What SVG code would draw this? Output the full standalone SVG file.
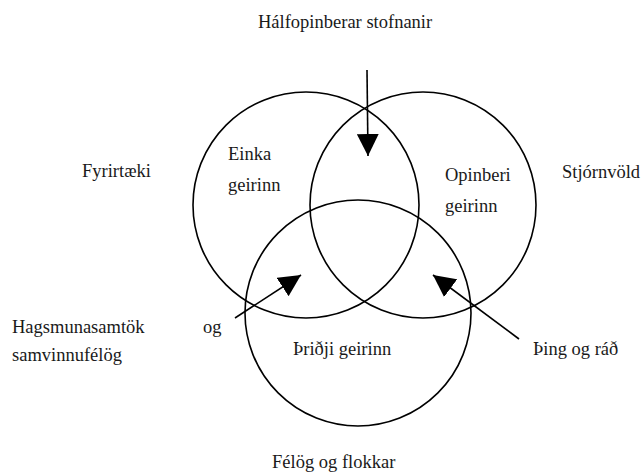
<svg xmlns="http://www.w3.org/2000/svg" width="642" height="473" viewBox="0 0 642 473">
<style>
.c{fill:none;stroke:#000;stroke-width:1.6}
.t{font-family:'Liberation Serif','Times New Roman','DejaVu Serif',serif;font-size:18.5px;fill:#1a1a1a}
.a{fill:none;stroke:#000;stroke-width:1.6}
</style>
<defs>
<marker id="ah" markerUnits="userSpaceOnUse" markerWidth="22" markerHeight="22" viewBox="0 0 20 20" refX="20" refY="10" orient="auto">
<path d="M0,0 L20,10 L0,20 Z" fill="#000"/>
</marker>
</defs>
<g id="einka"><circle class="c" cx="306" cy="205" r="113"/><text class="t" x="228" y="160">Einka</text><text class="t" x="228" y="191">geirinn</text></g>
<g id="opinberi"><circle class="c" cx="423" cy="205" r="113"/><text class="t" x="445" y="181">Opinberi</text><text class="t" x="445" y="212">geirinn</text></g>
<g id="thridji"><circle class="c" cx="358" cy="313" r="113"/><text class="t" x="293" y="355">Þriðji geirinn</text></g>
<g id="halfopinberar"><text class="t" x="258" y="28">Hálfopinberar stofnanir</text></g>
<g id="fyrirtaeki"><text class="t" x="82" y="177">Fyrirtæki</text></g>
<g id="stjornvold"><text class="t" x="562" y="178">Stjórnvöld</text></g>
<g id="hagsmuna"><text class="t" x="12" y="333">Hagsmunasamtök</text><text class="t" x="203" y="333">og</text><text class="t" x="12" y="361">samvinnufélög</text></g>
<g id="thing"><text class="t" x="533" y="355">Þing og ráð</text></g>
<g id="felog"><text class="t" x="272" y="468">Félög og flokkar</text></g>
<g id="connectors">
<line class="a" x1="367" y1="70" x2="368" y2="156" marker-end="url(#ah)"/>
<line class="a" x1="235" y1="318" x2="301" y2="275" marker-end="url(#ah)"/>
<line class="a" x1="519" y1="339" x2="433" y2="275" marker-end="url(#ah)"/>
</g>
</svg>
